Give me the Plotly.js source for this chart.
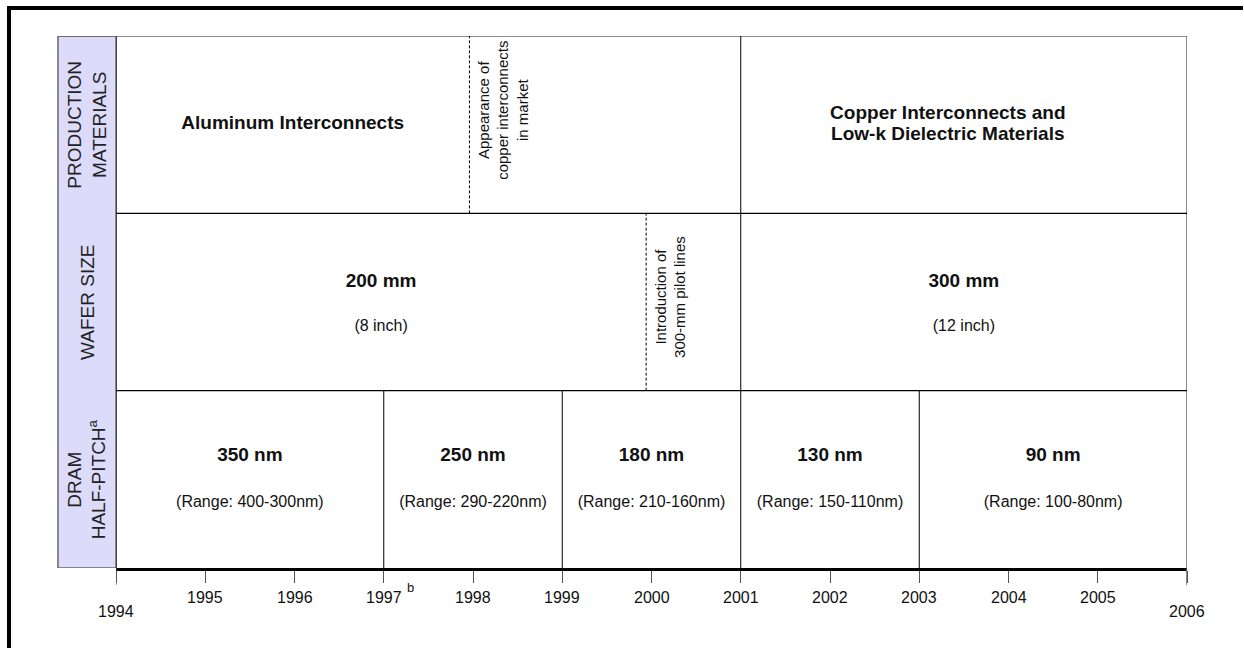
<!DOCTYPE html>
<html>
<head>
<meta charset="utf-8">
<script src="https://cdn.plot.ly/plotly-3.0.1.min.js"></script>
<style>
html,body{margin:0;padding:0;background:#fff;}
#chart{width:1244px;height:648px;}
</style>
</head>
<body>
<div id="chart"></div>
<script>
// ---- data ----
const years = [1994, 1995, 1996, 1997, 1998, 1999, 2000, 2001, 2002, 2003, 2004, 2005, 2006];
const yearLabels = ['1994', '1995', '1996', '1997', '1998', '1999', '2000', '2001', '2002', '2003', '2004', '2005', '2006'];
const rowLabels = ['DRAM<br>HALF-PITCH<sup>a</sup>', 'WAFER SIZE', 'PRODUCTION<br>MATERIALS'];

// DRAM half-pitch nodes (row 0)
const dramStart = [1994, 1997, 1999, 2001, 2003];
const dramEnd   = [1997, 1999, 2001, 2003, 2006];
const dramNode  = ['350 nm', '250 nm', '180 nm', '130 nm', '90 nm'];
const dramRange = ['(Range: 400-300nm)', '(Range: 290-220nm)', '(Range: 210-160nm)', '(Range: 150-110nm)', '(Range: 100-80nm)'];

// Wafer size (row 1)
const waferStart = [1994, 2001];
const waferEnd   = [2001, 2006];
const waferSplit = 1999.94;   // introduction of 300-mm pilot lines (dashed)
const waferSize  = ['200 mm', '300 mm'];
const waferInch  = ['(8 inch)', '(12 inch)'];
const waferNote  = 'Introduction of<br>300-mm pilot lines';

// Production materials (row 2)
const matStart = [1994, 2001];
const matEnd   = [2001, 2006];
const matSplit = 1997.96;     // appearance of copper interconnects (dashed)
const matLeft  = 'Aluminum Interconnects';
const matRight = ['Copper Interconnects and', 'Low-k Dielectric Materials'];
const matNote  = 'Appearance of<br>copper interconnects<br>in market';

const footYear = 1997;   // year with footnote "b"

// ---- build ----
const FONT = 'Arial, "Liberation Sans", sans-serif';
const shapes = [];
const annotations = [];
const labelColX0 = -0.0542; // paper coords of label column left edge

// label column background
shapes.push({type:'rect', xref:'paper', yref:'y', x0:labelColX0, x1:0, y0:0, y1:3,
  fillcolor:'#dcdcfa', line:{color:'#666', width:1.5}, layer:'below'});
// plot top border
shapes.push({type:'line', xref:'paper', yref:'y', x0:labelColX0, x1:1, y0:3, y1:3, line:{color:'#666', width:1.5}});
// left border of plot (dark grey)
shapes.push({type:'line', xref:'x', yref:'y', x0:years[0], x1:years[0], y0:0, y1:3, line:{color:'#444', width:2}});
// right border (extends below axis like tick)
shapes.push({type:'line', xref:'x', yref:'paper', x0:years[years.length-1], x1:years[years.length-1], y0:-0.032, y1:1, line:{color:'#666', width:1.5}});
// first tick longer
shapes.push({type:'line', xref:'x', yref:'paper', x0:years[0], x1:years[0], y0:-0.032, y1:0, line:{color:'#555', width:1}});
// row separators
[1, 2].forEach(r => shapes.push({type:'line', xref:'x', yref:'y', x0:years[0], x1:years[years.length-1], y0:r, y1:r, line:{color:'#000', width:1.2}}));
// boundaries
dramStart.slice(1).forEach(x => shapes.push({type:'line', xref:'x', yref:'y', x0:x, x1:x, y0:0, y1:1, line:{color:'#000', width:1}}));
waferStart.slice(1).forEach(x => shapes.push({type:'line', xref:'x', yref:'y', x0:x, x1:x, y0:1, y1:2, line:{color:'#000', width:1}}));
matStart.slice(1).forEach(x => shapes.push({type:'line', xref:'x', yref:'y', x0:x, x1:x, y0:2, y1:3, line:{color:'#000', width:1}}));
// dashed lines
shapes.push({type:'line', xref:'x', yref:'y', x0:waferSplit, x1:waferSplit, y0:1, y1:2, line:{color:'#000', width:1, dash:'3px,2px'}});
shapes.push({type:'line', xref:'x', yref:'y', x0:matSplit, x1:matSplit, y0:2, y1:3, line:{color:'#000', width:1, dash:'3px,2px'}});
// outer frame (thick black top and left)
shapes.push({type:'line', xref:'paper', yref:'paper', x0:(9-116)/1071, x1:(1243-116)/1071, y0:(568-8)/532, y1:(568-8)/532, line:{color:'#000', width:4}});
shapes.push({type:'line', xref:'paper', yref:'paper', x0:(9-116)/1071, x1:(9-116)/1071, y0:(568-6)/532, y1:(568-650)/532, line:{color:'#000', width:4}});

// row labels (rotated)
rowLabels.forEach((t, i) => annotations.push({
  xref:'paper', yref:'y', x:labelColX0/2, y:i + 0.5, text:t, textangle:-90, showarrow:false,
  font:{family:FONT, size:19, color:'#222'}, xanchor:'center', yanchor:'middle'
}));
// rotated notes
annotations.push({xref:'x', yref:'y', x:matSplit + 0.38, y:2.58, text:matNote, textangle:-90, showarrow:false,
  font:{family:FONT, size:15, color:'#111'}});
annotations.push({xref:'x', yref:'y', x:waferSplit + 0.27, y:1.53, text:waferNote, textangle:-90, showarrow:false,
  font:{family:FONT, size:15, color:'#111'}});
// year tick labels
years.forEach((y, i) => {
  const isEnd = (i === 0 || i === years.length - 1);
  annotations.push({xref:'x', yref:'paper', x:y, y:0, yanchor:'middle', yshift: isEnd ? -43 : -29,
    text:yearLabels[i], showarrow:false, font:{family:FONT, size:16, color:'#111'}});
});
annotations.push({xref:'x', yref:'paper', x:footYear, y:0, yanchor:'middle', xshift:27, yshift:-19,
  text:'b', showarrow:false, font:{family:FONT, size:13, color:'#111'}});

// cell text traces
const mid = (a, b) => a.map((v, i) => (v + b[i]) / 2);
const traces = [
  {x: mid(dramStart, dramEnd), y: dramNode.map(() => 0.63), text: dramNode, mode:'text', type:'scatter',
   textfont:{family:FONT, size:19, color:'#111', weight:'bold'}, hoverinfo:'skip', cliponaxis:false},
  {x: mid(dramStart, dramEnd), y: dramRange.map(() => 0.365), text: dramRange, mode:'text', type:'scatter',
   textfont:{family:FONT, size:16, color:'#111'}, hoverinfo:'skip', cliponaxis:false},
  {x: [(waferStart[0] + waferSplit) / 2, (waferStart[1] + waferEnd[1]) / 2], y: [1.61, 1.61], text: waferSize, mode:'text', type:'scatter',
   textfont:{family:FONT, size:19, color:'#111', weight:'bold'}, hoverinfo:'skip', cliponaxis:false},
  {x: [(waferStart[0] + waferSplit) / 2, (waferStart[1] + waferEnd[1]) / 2], y: [1.36, 1.36], text: waferInch, mode:'text', type:'scatter',
   textfont:{family:FONT, size:16, color:'#111'}, hoverinfo:'skip', cliponaxis:false},
  {x: [(matStart[0] + matSplit) / 2, 2003.32, 2003.32], y: [2.5, 2.558, 2.44], text: [matLeft].concat(matRight), mode:'text', type:'scatter',
   textfont:{family:FONT, size:19, color:'#111', weight:'bold'}, hoverinfo:'skip', cliponaxis:false}
];

const layout = {
  width:1244, height:648,
  margin:{l:116, r:57, t:36, b:80, pad:0},
  paper_bgcolor:'#fff', plot_bgcolor:'#fff',
  showlegend:false,
  xaxis:{range:[years[0], years[years.length-1]], tickvals:years, showticklabels:false,
    ticks:'outside', ticklen:12, tickcolor:'#555', tickwidth:1,
    showline:true, linecolor:'#000', linewidth:3, showgrid:false, zeroline:false, fixedrange:true},
  yaxis:{range:[0, 3], showticklabels:false, ticks:'', showgrid:false, zeroline:false, showline:false, fixedrange:true},
  shapes:shapes,
  annotations:annotations,
  font:{family:FONT}
};

Plotly.newPlot('chart', traces, layout, {staticPlot:true, displayModeBar:false});
</script>
</body>
</html>
